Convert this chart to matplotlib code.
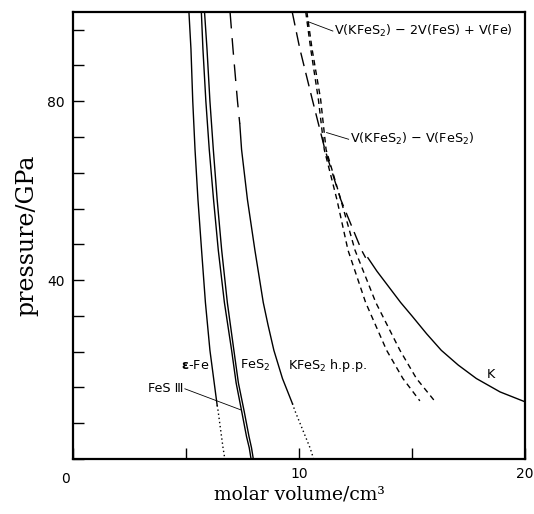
import matplotlib
matplotlib.use("Agg")
import matplotlib.pyplot as plt

# curves: pressure (GPa) and molar volume (cm3)
p_efe = [100, 91.7, 80, 69.2, 58, 46.7, 35, 24.3, 12]
v_efe = [5.13, 5.22, 5.30, 5.40, 5.53, 5.69, 5.86, 6.06, 6.38]
p_efe_dot = [12, 10.8, 2.5, 0]
v_efe_dot = [6.38, 6.42, 6.64, 6.72]

p_pair = [100, 91.7, 80, 69.2, 58, 46.7, 35, 24.3, 17, 10.8, 5, 2.5, 0]
v_fes3 = [5.68, 5.75, 5.88, 6.03, 6.22, 6.43, 6.70, 7.02, 7.22, 7.46, 7.68, 7.80, 7.88]
v_fes2 = [5.82, 5.93, 6.06, 6.21, 6.38, 6.58, 6.83, 7.12, 7.32, 7.57, 7.79, 7.90, 7.98]

p_hpp_dash = [100, 91.7, 80, 75]
v_hpp_dash = [6.95, 7.08, 7.28, 7.38]
p_hpp = [75, 69.2, 58, 46.7, 35, 30, 24.3, 18, 12.4]
v_hpp = [7.38, 7.46, 7.72, 8.05, 8.42, 8.63, 8.89, 9.27, 9.71]
p_hpp_dot = [12.4, 10.8, 2.5, 0]
v_hpp_dot = [9.71, 9.82, 10.49, 10.65]

p_k_dash = [100, 91.7, 80.4, 69.2, 58, 46.7, 45]
v_k_dash = [9.7, 10.04, 10.59, 11.15, 11.85, 12.77, 12.95]
p_k = [45, 42, 39, 35, 32, 28, 24.3, 21, 18, 15, 12.8]
v_k = [13.05, 13.45, 13.9, 14.5, 15.0, 15.65, 16.3, 17.05, 17.85, 18.9, 20.0]

p_diff = [100, 91.7, 80.4, 69.2, 58, 46.7, 35, 24.3, 18, 13]
v_diff_a = [10.3, 10.52, 10.86, 11.12, 11.68, 12.17, 12.95, 13.88, 14.6, 15.35]
v_diff_b = [10.35, 10.58, 10.96, 11.2, 11.85, 12.48, 13.4, 14.47, 15.2, 16.0]

x_ticks = [0, 5, 10, 15, 20]
x_ticklabels = ['', '', '10', '', '20']
y_ticks = [0, 8, 16, 24, 32, 40, 48, 56, 64, 72, 80, 88, 96]
y_ticklabels = ['', '', '', '', '', '40', '', '', '', '', '80', '', '']

fig = plt.figure(figsize=(5.34, 5.14), dpi=100)
ax = fig.add_axes([0.1367, 0.107, 0.8463, 0.87])

lw = 1.0
ax.plot(v_efe, p_efe, 'k-', lw=lw)
ax.plot(v_efe_dot, p_efe_dot, 'k', lw=1.0, ls=(0, (1, 2)))
ax.plot(v_fes3, p_pair, 'k-', lw=lw)
ax.plot(v_fes2, p_pair, 'k-', lw=lw)
ax.plot(v_hpp_dash, p_hpp_dash, 'k', lw=lw, ls=(0, (12, 7)))
ax.plot(v_hpp, p_hpp, 'k-', lw=lw)
ax.plot(v_hpp_dot, p_hpp_dot, 'k', lw=1.0, ls=(0, (1, 2)))
ax.plot(v_k_dash, p_k_dash, 'k', lw=lw, ls=(0, (10, 5)))
ax.plot(v_k, p_k, 'k-', lw=lw)
ax.plot(v_diff_a, p_diff, 'k', lw=lw, ls=(0, (4, 3)))
ax.plot(v_diff_b, p_diff, 'k', lw=lw, ls=(0, (4, 3)))

ax.set_xlim(0, 20)
ax.set_ylim(0, 100)
for s in ax.spines.values():
    s.set_linewidth(1.6)

ax.set_xticks(x_ticks)
ax.set_xticklabels(x_ticklabels)
ax.set_yticks(y_ticks)
ax.set_yticklabels(y_ticklabels)
ax.tick_params(direction='in', length=8, width=1.0, labelsize=10, pad=6)
ax.text(-0.35, -3.0, '0', ha='center', va='top', fontsize=10)

lab = dict(fontsize=9.2, color='k')
ax.text(6.05, 21, r'$\mathbf{\epsilon}$-Fe', ha='right', va='center', **lab)
ax.text(7.4, 21, r'FeS$_2$', ha='left', va='center', **lab)
ax.text(9.5, 21, r'KFeS$_2$ h.p.p.', ha='left', va='center', **lab)
ax.text(18.3, 19, 'K', ha='left', va='center', **lab)
ax.text(4.9, 15.7, 'FeS Ⅲ', ha='right', va='center', **lab)
ax.plot([4.95, 7.42], [15.7, 11.0], 'k-', lw=0.6)
ax.text(11.55, 95.7, r'V(KFeS$_2$) − 2V(FeS) + V(Fe)', ha='left', va='center', **lab)
ax.plot([10.4, 11.5], [97.8, 95.7], 'k-', lw=0.6)
ax.text(12.25, 71.5, r'V(KFeS$_2$) − V(FeS$_2$)', ha='left', va='center', **lab)
ax.plot([11.22, 12.2], [73.0, 71.5], 'k-', lw=0.6)

ax.set_xlabel('molar volume/cm³', fontsize=13.5, family='DejaVu Serif', labelpad=3)
ax.set_ylabel('pressure/GPa', fontsize=17, family='DejaVu Serif', labelpad=6)

fig.savefig('out.png', dpi=100)
